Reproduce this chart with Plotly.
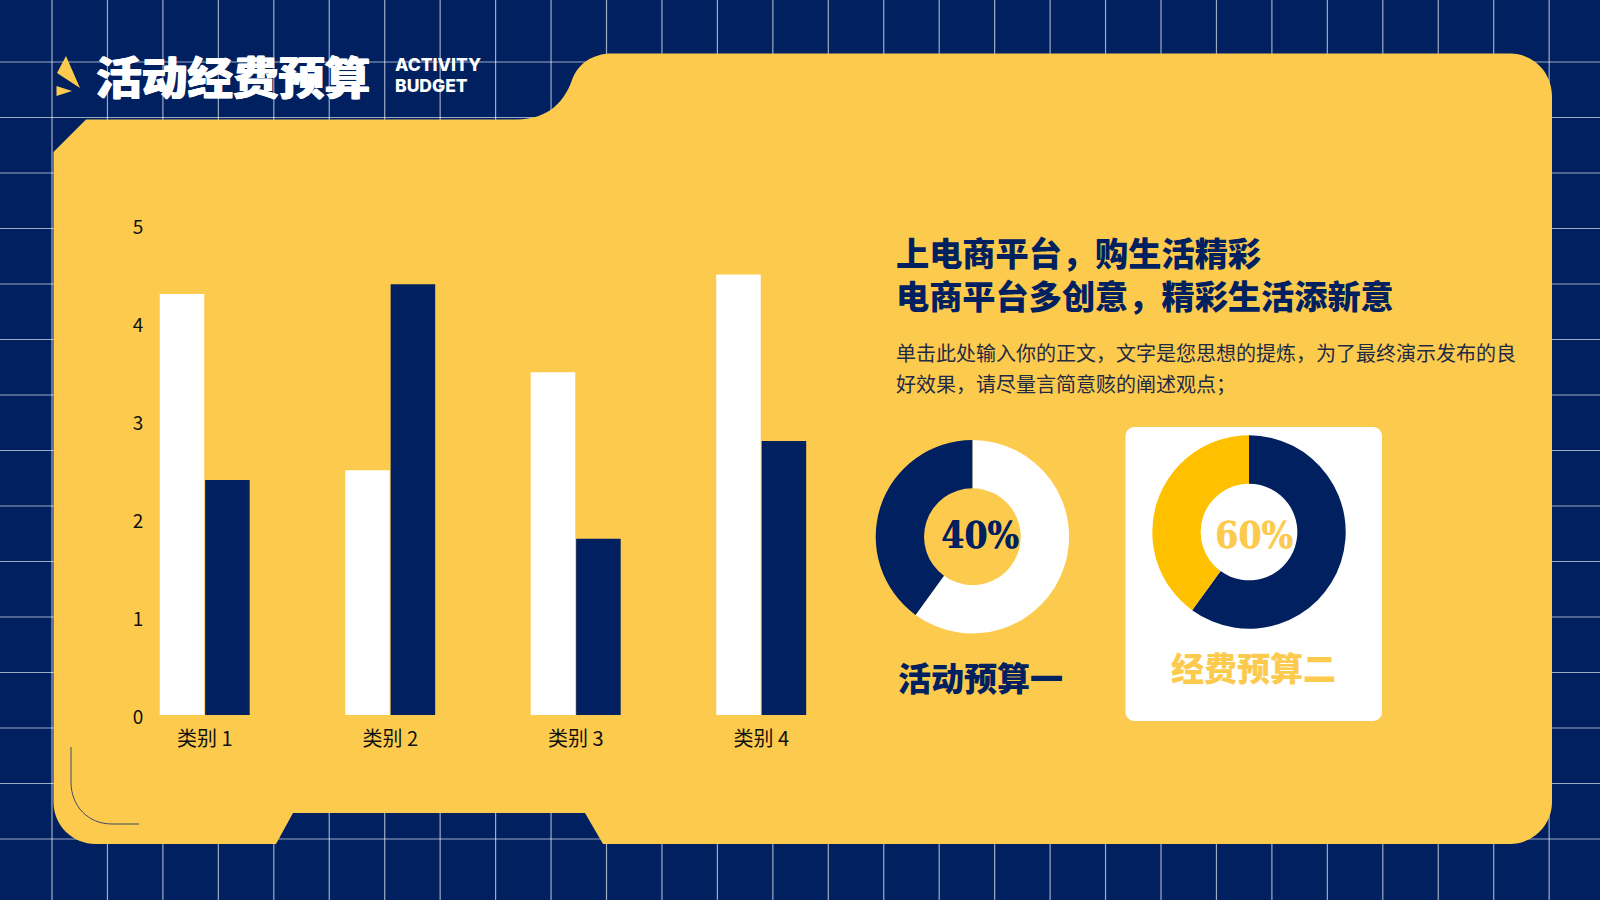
import plotly.graph_objects as go

# ---------- data ----------
categories = ["类别 1", "类别 2", "类别 3", "类别 4"]
series_a = [4.3, 2.5, 3.5, 4.5]
series_b = [2.4, 4.4, 1.8, 2.8]
series_names = ["系列 1", "系列 2"]
y_ticks = [0, 1, 2, 3, 4, 5]
donut_one = [60, 40]
donut_two = [60, 40]
donut_labels_one = ["其他", "活动预算一"]
donut_labels_two = ["经费预算二", "其他"]

title_text = "活动经费预算"
title_en = ["ACTIVITY", "BUDGET"]
heading_lines = ["上电商平台，购生活精彩", "电商平台多创意，精彩生活添新意"]
body_lines = ["单击此处输入你的正文，文字是您思想的提炼，为了最终演示发布的良",
              "好效果，请尽量言简意赅的阐述观点；"]

# ---------- style ----------
W, H = 1600, 900
NAVY = "#002060"
YELLOW = "#FCCB4E"
AMBER = "#FFC000"
WHITE = "#FFFFFF"
GRID = "rgba(255,255,255,0.62)"
CJK = "Noto Sans CJK SC"


def px(x):
    return x / W


def py(y):
    return 1 - y / H


def path(cmds):
    out = []
    for c in cmds:
        if c == "Z":
            out.append("Z")
            continue
        op, pts = c[0], c[1:]
        out.append(op + " " + " ".join(f"{px(x):.5f},{py(y):.5f}" for x, y in pts))
    return " ".join(out)


def rrect(x0, y0, x1, y1, r):
    k = r * 0.448
    return path([
        ("M", (x0 + r, y0)), ("L", (x1 - r, y0)),
        ("C", (x1 - k, y0), (x1, y0 + k), (x1, y0 + r)),
        ("L", (x1, y1 - r)),
        ("C", (x1, y1 - k), (x1 - k, y1), (x1 - r, y1)),
        ("L", (x0 + r, y1)),
        ("C", (x0 + k, y1), (x0, y1 - k), (x0, y1 - r)),
        ("L", (x0, y0 + r)),
        ("C", (x0, y0 + k), (x0 + k, y0), (x0 + r, y0)),
        "Z",
    ])


shapes = []
# background grid
for i in range(0, 28):
    x = 52 + 55.45 * i
    shapes.append(dict(type="line", xref="paper", yref="paper", x0=px(x), x1=px(x), y0=0, y1=1,
                       line=dict(color=GRID, width=1.2), layer="below"))
for i in range(0, 15):
    y = 62 + 55.5 * i
    shapes.append(dict(type="line", xref="paper", yref="paper", x0=0, x1=1, y0=py(y), y1=py(y),
                       line=dict(color=GRID, width=1.2), layer="below"))

# yellow panel
panel = path([
    ("M", (53.5, 152)), ("L", (86, 119.5)), ("L", (516, 119.5)),
    ("C", (550, 119.5), (565, 100), (572, 80)),
    ("C", (578, 64), (592, 53.5), (612, 53.5)),
    ("L", (1510, 53.5)),
    ("C", (1533, 53.5), (1552, 72), (1552, 96)),
    ("L", (1552, 802)),
    ("C", (1552, 825), (1533, 844), (1510, 844)),
    ("L", (603, 844)), ("L", (585, 813)), ("L", (293, 813)), ("L", (276, 844)), ("L", (96, 844)),
    ("C", (72, 844), (53.5, 825), (53.5, 802)),
    "Z",
])
shapes.append(dict(type="path", xref="paper", yref="paper", path=panel, fillcolor=YELLOW,
                   line=dict(width=0), layer="below"))

# logo
shapes.append(dict(type="path", xref="paper", yref="paper", layer="below", fillcolor=YELLOW, line=dict(width=0),
                   path=path([("M", (66, 56)), ("L", (80, 88)), ("L", (57, 73)), "Z"])))
shapes.append(dict(type="path", xref="paper", yref="paper", layer="below", fillcolor=YELLOW, line=dict(width=0),
                   path=path([("M", (56.5, 86)), ("L", (72, 91)), ("L", (56.5, 96)), "Z"])))

# corner arc
shapes.append(dict(type="path", xref="paper", yref="paper", layer="below", line=dict(color="#3D4A66", width=1),
                   path=path([("M", (71, 747)), ("L", (71, 782)),
                              ("C", (71, 806), (88, 824), (112, 824)), ("L", (139, 824))])))

# white card
shapes.append(dict(type="path", xref="paper", yref="paper", layer="below", fillcolor=WHITE, line=dict(width=0),
                   path=rrect(1125.5, 427, 1382, 721, 9)))


def note(text, x, y, size, color, weight=400, anchor="left", family=CJK, shadow=None):
    font = dict(family=family, size=size, color=color, weight=weight)
    if shadow:
        font["shadow"] = shadow
    return dict(text=text, x=px(x), y=py(y), xref="paper", yref="paper", showarrow=False,
                xanchor=anchor, yanchor="middle", align=anchor, font=font)


annotations = [
    note(title_text, 93.5, 75, 45.7, WHITE, 900, shadow="0.7px 0 0 #FFFFFF, -0.7px 0 0 #FFFFFF"),
    note(title_en[0], 393, 65, 17.5, WHITE, 800, family="Inter"),
    note(title_en[1], 393, 85.5, 17.5, WHITE, 800, family="Inter"),
    note("<br>".join(heading_lines), 894, 272.5, 33.2, NAVY, 900),
    note(body_lines[0], 894, 352, 20, "#1F2A44"),
    note(body_lines[1], 894, 383, 20, "#1F2A44"),
    note("40%", 980, 535, 37, NAVY, 700, "center", "DejaVu Serif Condensed", shadow="0.5px 0 0 #002060"),
    note("60%", 1253.5, 535, 37, YELLOW, 700, "center", "DejaVu Serif Condensed", shadow="0.5px 0 0 #FCCB4E"),
    note("活动预算一", 980, 677, 33, NAVY, 900, "center"),
    note("经费预算二", 1253.5, 667, 33, YELLOW, 900, "center"),
]

fig = go.Figure()
fig.add_bar(x=categories, y=series_a, name=series_names[0], marker=dict(color=WHITE, line=dict(width=0)), hoverinfo="skip")
fig.add_bar(x=categories, y=series_b, name=series_names[1], marker=dict(color=NAVY, line=dict(width=0)), hoverinfo="skip")


def donut(values, labels, colors, cx, cy, r):
    return go.Pie(values=values, labels=labels, hole=0.5, sort=False, direction="clockwise", rotation=0,
                  marker=dict(colors=colors, line=dict(width=0)), textinfo="none", hoverinfo="skip",
                  showlegend=False,
                  domain=dict(x=[px(cx - r), px(cx + r)], y=[py(cy + r), py(cy - r)]))


fig.add_trace(donut(donut_one, donut_labels_one, [WHITE, NAVY], 972.4, 536.7, 96.7))
fig.add_trace(donut(donut_two, donut_labels_two, [NAVY, AMBER], 1249, 532, 96.7))

x_left, x_right = 150, 825
c0, step = 204.7, 185.5
fig.update_layout(
    template="none",
    width=W, height=H, margin=dict(l=0, r=0, t=0, b=0, pad=0),
    paper_bgcolor=NAVY, plot_bgcolor="rgba(0,0,0,0)", showlegend=False,
    barmode="group", bargap=0.51, bargroupgap=0.02,
    shapes=shapes, annotations=annotations,
    xaxis=dict(domain=[px(x_left), px(x_right)], range=[(x_left - c0) / step, (x_right - c0) / step],
               type="category", categoryorder="array", categoryarray=categories, automargin=False,
               showgrid=False, zeroline=False, showline=False, ticks="outside", ticklen=6, tickcolor="rgba(0,0,0,0)",
               tickfont=dict(family=CJK, size=20, color="#111111")),
    yaxis=dict(domain=[py(715), py(225.5)], range=[0, 5], tickvals=y_ticks, automargin=False,
               showgrid=False, zeroline=False, showline=False, ticks="outside", ticklen=2, tickcolor="rgba(0,0,0,0)",
               ticklabelshift=2,
               tickfont=dict(family=CJK, size=19, color="#111111")),
)

fig.write_html("out.html", config=dict(displayModeBar=False),
               post_script="document.body.style.margin='0';document.body.style.overflow='hidden';")
